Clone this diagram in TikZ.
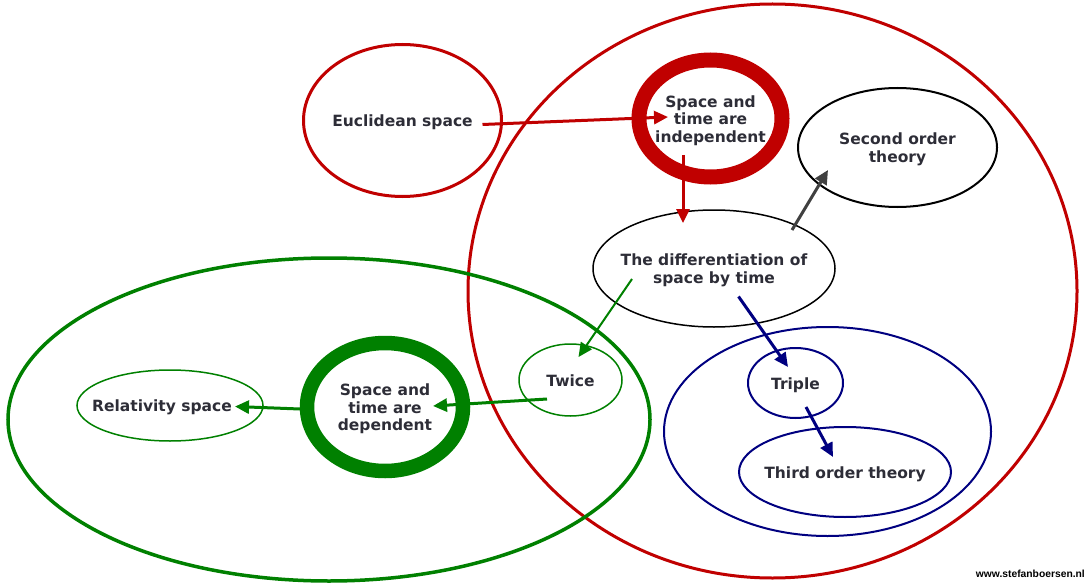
\documentclass[tikz,border=0pt]{standalone}
\usepackage{fontspec}
\setmainfont{DejaVu Sans}
\newfontfamily\wwwfont{Liberation Sans}
\usetikzlibrary{shapes.geometric,arrows.meta,calc}
\definecolor{sbred}{RGB}{192,0,0}
\definecolor{sbgreen}{RGB}{0,128,0}
\definecolor{sbblue}{RGB}{0,0,128}
\definecolor{sbtext}{RGB}{45,45,55}
\newcommand{\lbl}[1]{\makebox[0pt]{\raisebox{-6.3pt}[0pt][0pt]{\begin{tabular}{@{}c@{}}#1\end{tabular}}}}
\begin{document}
\begin{tikzpicture}[x=1pt,y=-1pt,
  bub/.style={ellipse, inner sep=0pt, text=sbtext, font=\fontsize{15.5}{17.5}\selectfont\bfseries},
  arr/.style={line width=3pt, -{Triangle[length=14pt,width=13pt]}}]
\useasboundingbox (0,0) rectangle (1087,583);
\node[bub, draw=sbred, line width=3pt, minimum width=609, minimum height=574] (red0) at (772.5,291){};
\node[bub, draw=sbgreen, line width=3.5pt, minimum width=642, minimum height=323] (green0) at (329,419.5){};
\node[bub, draw=sbblue, line width=2pt, minimum width=327, minimum height=209] (blue0) at (827.5,431.5){};
\node[bub, draw=sbred, line width=3pt, minimum width=198, minimum height=152] (euc) at (402.5,120.5){\lbl{Euclidean space}};
\node[bub, draw=sbred, line width=15pt, minimum width=143, minimum height=117] (ind) at (710.5,118.5){\lbl{Space and\\time are\\independent}};
\node[bub, draw=black, line width=2pt, minimum width=199, minimum height=119] (sec) at (897.5,147.5){\lbl{Second order\\theory}};
\node[bub, draw=black, line width=1.5pt, minimum width=242, minimum height=117] (diff) at (714,268.5){\lbl{The differentiation of\\space by time}};
\node[bub, draw=sbgreen, line width=1.5pt, minimum width=103, minimum height=72] (twice) at (570.5,380){\lbl{Twice}};
\node[bub, draw=sbgreen, line width=14.5pt, minimum width=156, minimum height=128] (dep) at (385,407){\lbl{Space and\\time are\\dependent}};
\node[bub, draw=sbgreen, line width=1.5pt, minimum width=186, minimum height=71] (rel) at (170,405.5){\lbl{\kern-16pt Relativity space}};
\node[bub, draw=sbblue, line width=2pt, minimum width=95, minimum height=70] (triple) at (795.5,383){\lbl{Triple}};
\node[bub, draw=sbblue, line width=2pt, minimum width=212, minimum height=90] (third) at (845,472){\lbl{Third order theory}};
\node[anchor=east, inner sep=0pt, font=\wwwfont\bfseries\fontsize{10.3}{11}\selectfont] (www) at (1085,574){www.stefanboersen.nl};
\draw[arr, sbred] ($(euc)+(80,4)$) -- ($(ind)+(-42.5,-1.5)$);
\draw[arr, sbred] ($(ind)+(-27.5,36.5)$) -- ($(diff)+(-31,-45.5)$);
\draw[arr, black!75] ($(diff)+(78,-38.5)$) -- ($(sec)+(-69.5,22.5)$);
\draw[arr, sbgreen, line width=2pt] ($(diff)+(-82,10.5)$) -- ($(twice)+(8,-23)$);
\draw[arr, sbblue] ($(diff)+(24.5,28)$) -- ($(triple)+(-7.5,-16)$);
\draw[arr, sbblue] ($(triple)+(10.5,24)$) -- ($(third)+(-12,-15)$);
\draw[arr, sbgreen] ($(twice)+(-23.5,19)$) -- ($(dep)+(48,-1)$);
\draw[arr, sbgreen] ($(dep)+(-85,2)$) -- ($(rel)+(65,1)$);
\end{tikzpicture}
\end{document}
